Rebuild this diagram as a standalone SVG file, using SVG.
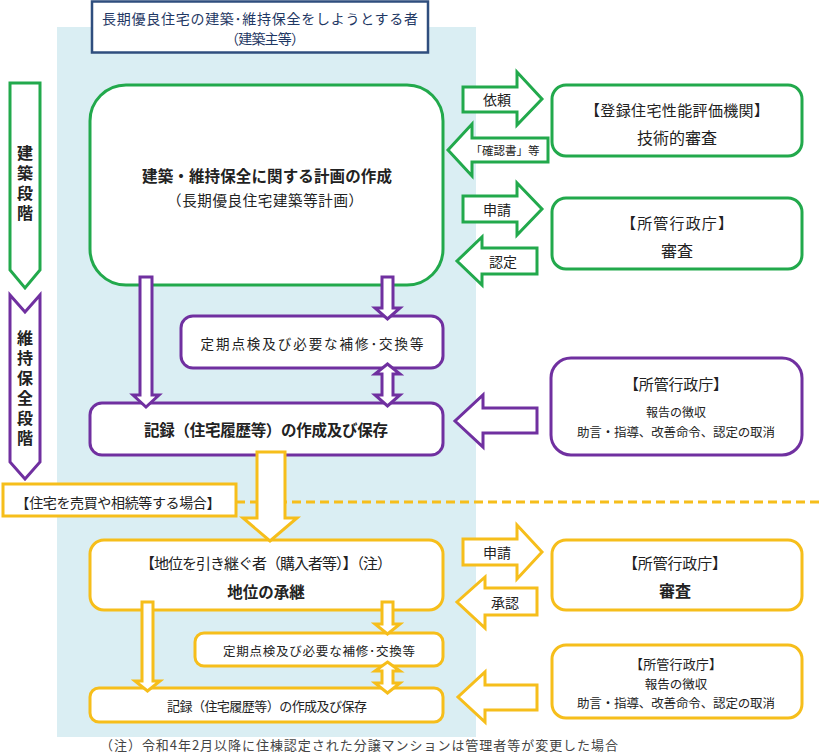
<svg xmlns="http://www.w3.org/2000/svg" width="819" height="752" viewBox="0 0 819 752">
<style>
text{font-family:"Noto Sans CJK JP","Noto Sans",sans-serif;fill:#222;dominant-baseline:central;text-anchor:middle}
.g{fill:#fff;stroke:#22A94C;stroke-width:3}
.p{fill:#fff;stroke:#7030A0;stroke-width:3}
.y{fill:#fff;stroke:#F6BE1B;stroke-width:3}
.b{font-weight:bold}
.v{writing-mode:vertical-rl;font-weight:bold;font-size:16px;letter-spacing:4px}
</style>
<rect x="57" y="27" width="419" height="710" fill="#DAEEF3"/>
<g id="owner">
<rect x="92" y="1.5" width="336" height="51" fill="#fff" stroke="#2F4E7E" stroke-width="2.5"/>
<text x="260" y="18" font-size="14" style="fill:#1F3864" textLength="316">長期優良住宅の建築･維持保全をしようとする者</text>
<text x="265" y="38" font-size="14" style="fill:#1F3864" textLength="80">（建築主等）</text>
</g>
<g id="stage-build">
<polygon class="g" points="10,83 40,83 40,270 25,288 10,270"/>
<text class="v" x="25" y="185">建築段階</text>
</g>
<g id="stage-maint">
<polygon class="p" points="10,295 25,312 40,295 40,462 25,479 10,462"/>
<text class="v" x="25" y="390">維持保全段階</text>
</g>
<g id="plan">
<rect class="g" x="90" y="85" width="353" height="200" rx="36"/>
<text class="b" x="267" y="175" font-size="15.5" textLength="250">建築・維持保全に関する計画の作成</text>
<text x="265" y="199" font-size="14.5" textLength="196">（長期優良住宅建築等計画）</text>
</g>
<g id="evaluator">
<rect class="g" x="552" y="85" width="250" height="71" rx="14"/>
<text x="677" y="109" font-size="15" textLength="184">【登録住宅性能評価機関】</text>
<text x="677" y="137" font-size="16">技術的審査</text>
</g>
<g id="gov1">
<rect class="g" x="552" y="198" width="250" height="71" rx="14"/>
<text x="677" y="222" font-size="15" textLength="112">【所管行政庁】</text>
<text x="677" y="250" font-size="16">審査</text>
</g>
<g id="inspect1">
<rect class="p" x="181" y="316" width="262" height="52" rx="12"/>
<text x="312" y="343" font-size="13.5" textLength="223">定期点検及び必要な補修･交換等</text>
</g>
<g id="record1">
<rect class="p" x="90" y="403" width="353" height="52" rx="12"/>
<text class="b" x="266" y="429" font-size="15.5" textLength="244">記録（住宅履歴等）の作成及び保存</text>
</g>
<g id="gov2">
<rect class="p" x="551" y="358" width="251" height="97" rx="20"/>
<text x="676" y="383" font-size="15" textLength="104">【所管行政庁】</text>
<text x="676" y="411" font-size="12">報告の徴収</text>
<text x="676" y="431" font-size="12.5" textLength="198">助言・指導、改善命令、認定の取消</text>
</g>
<g id="case-label">
<rect class="y" x="3" y="484" width="233" height="32"/>
<text x="118" y="502" font-size="14" textLength="205">【住宅を売買や相続等する場合】</text>
</g>
<g id="successor">
<rect class="y" x="90" y="540" width="353" height="70" rx="14"/>
<text x="266" y="562" font-size="15" textLength="252">【地位を引き継ぐ者（購入者等）】（注）</text>
<text class="b" x="266" y="591" font-size="15.5">地位の承継</text>
</g>
<g id="inspect2">
<rect class="y" x="195" y="633" width="248" height="33" rx="9"/>
<text x="319" y="650" font-size="12.5" textLength="192">定期点検及び必要な補修･交換等</text>
</g>
<g id="record2">
<rect class="y" x="90" y="688" width="353" height="34" rx="9"/>
<text x="267" y="705" font-size="13" textLength="200">記録（住宅履歴等）の作成及び保存</text>
</g>
<g id="gov3">
<rect class="y" x="552" y="540" width="250" height="70" rx="14"/>
<text x="675" y="562" font-size="15" textLength="104">【所管行政庁】</text>
<text class="b" x="675" y="590" font-size="16">審査</text>
</g>
<g id="gov4">
<rect class="y" x="552" y="645" width="250" height="73" rx="14"/>
<text x="676" y="663" font-size="13" textLength="92">【所管行政庁】</text>
<text x="676" y="683" font-size="12.5">報告の徴収</text>
<text x="676" y="702" font-size="12.5" textLength="198">助言・指導、改善命令、認定の取消</text>
</g>
<g id="connectors">
<polygon class="g" points="463,87 517,87 517,72 542,99 517,125 517,112 463,112"/>
<text x="497" y="99" font-size="14">依頼</text>
<polygon class="g" points="548,138 472,138 472,124 448,150 472,176 472,162 548,162"/>
<text x="505" y="150" font-size="11.5">「確認書」等</text>
<polygon class="g" points="463,196 517,196 517,183 542,209 517,235 517,222 463,222"/>
<text x="497" y="209" font-size="14">申請</text>
<polygon class="g" points="537,248 482,248 482,237 457,261 482,285 482,274 537,274"/>
<text x="503" y="261" font-size="14">認定</text>
<polygon class="p" points="140,277 152,277 152,395 159,395 146,407 133,395 140,395"/>
<polygon class="p" points="382,277 393,277 393,308 400,308 387.5,319 375,308 382,308"/>
<polygon class="p" points="387.5,364 400,374 393,374 393,395 400,395 387.5,406 375,395 382,395 382,374 375,374"/>
<polygon class="p" points="537,408 483,408 483,395 455,421 483,447 483,433 537,433"/>
<line x1="236" y1="502" x2="819" y2="502" stroke="#F6BE1B" stroke-width="3" stroke-dasharray="9,5"/>
<polygon class="y" points="257,452 285,452 285,518 297,518 270,541 243,518 257,518"/>
<polygon class="y" points="463,539 517,539 517,525 542,552 517,579 517,565 463,565"/>
<text x="497" y="552" font-size="14">申請</text>
<polygon class="y" points="537,588 485,588 485,577 457,602 485,628 485,615 537,615"/>
<text x="505" y="602" font-size="14">承認</text>
<polygon class="y" points="142,602 153,602 153,681 160,681 147.5,691 135,681 142,681"/>
<polygon class="y" points="382,602 393,602 393,624 400,624 387.5,634 375,624 382,624"/>
<polygon class="y" points="387.5,662 400,671 393,671 393,683 400,683 387.5,693 375,683 382,683 382,671 375,671"/>
<polygon class="y" points="537,685 485,685 485,672 458,697 485,722 485,710 537,710"/>
</g>
<text x="359" y="744" font-size="13" style="fill:#444" textLength="518">（注）令和4年2月以降に住棟認定された分譲マンションは管理者等が変更した場合</text>
</svg>
